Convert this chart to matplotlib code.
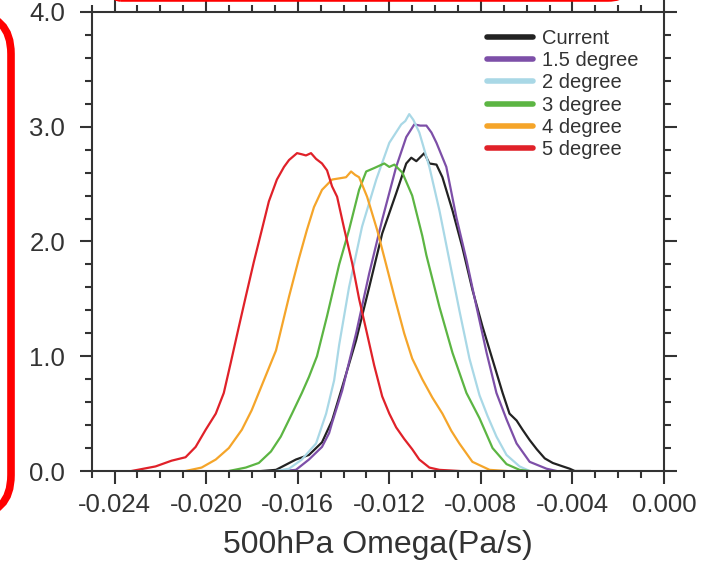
import numpy as np
import matplotlib
matplotlib.use("Agg")
import matplotlib.pyplot as plt
from matplotlib.patches import FancyBboxPatch
from matplotlib.transforms import IdentityTransform
from matplotlib.ticker import MultipleLocator, FormatStrFormatter

plt.rcParams['font.family'] = ['Liberation Sans', 'DejaVu Sans']
plt.rcParams['axes.unicode_minus'] = False

# PDF curves of 500hPa omega (Pa/s)
x_cur = [-0.01757, -0.01695, -0.01608, -0.01551, -0.01494, -0.01450, -0.01406, -0.01345,
         -0.01288, -0.01231, -0.01170, -0.01126, -0.01104, -0.01082, -0.01047, -0.01025,
         -0.00994, -0.00968, -0.00924, -0.00881, -0.00837, -0.00793, -0.00749, -0.00705,
         -0.00675, -0.00644, -0.00618, -0.00587, -0.00556, -0.00521, -0.00486, -0.00442,
         -0.00412, -0.00390, -0.00324]
y_cur = [0.00, 0.01, 0.10, 0.14, 0.25, 0.44, 0.73, 1.14,
         1.60, 2.07, 2.42, 2.68, 2.73, 2.70, 2.77, 2.68,
         2.67, 2.56, 2.27, 1.95, 1.58, 1.26, 0.97, 0.68,
         0.50, 0.44, 0.36, 0.27, 0.19, 0.11, 0.07, 0.04,
         0.02, 0.00, 0.00]

x_15 = [-0.01669, -0.01608, -0.01551, -0.01494, -0.01463, -0.01450, -0.01406, -0.01345,
        -0.01288, -0.01231, -0.01170, -0.01126, -0.01091, -0.01065, -0.01038, -0.01016,
        -0.00994, -0.00951, -0.00907, -0.00863, -0.00819, -0.00775, -0.00732, -0.00688,
        -0.00644, -0.00587, -0.00513, -0.00469]
y_15 = [0.00, 0.01, 0.10, 0.21, 0.33, 0.42, 0.70, 1.20,
        1.72, 2.19, 2.65, 2.91, 3.02, 3.01, 3.01, 2.95,
        2.86, 2.65, 2.21, 1.84, 1.43, 1.03, 0.68, 0.45,
        0.24, 0.08, 0.02, 0.00]

x_2 = [-0.01695, -0.01638, -0.01582, -0.01520, -0.01476, -0.01441, -0.01419, -0.01376,
       -0.01319, -0.01257, -0.01200, -0.01148, -0.01130, -0.01113, -0.01095, -0.01069,
       -0.01025, -0.00981, -0.00938, -0.00894, -0.00850, -0.00806, -0.00771, -0.00732,
       -0.00688, -0.00631, -0.00587]
y_2 = [0.00, 0.02, 0.10, 0.24, 0.50, 0.79, 1.10, 1.60,
       2.13, 2.54, 2.86, 3.02, 3.05, 3.11, 3.06, 2.95,
       2.65, 2.27, 1.84, 1.40, 0.98, 0.66, 0.48, 0.30,
       0.14, 0.04, 0.00]

x_3 = [-0.01901, -0.01827, -0.01770, -0.01717, -0.01674, -0.01625, -0.01582, -0.01551,
       -0.01516, -0.01472, -0.01419, -0.01376, -0.01332, -0.01301, -0.01266, -0.01244,
       -0.01222, -0.01200, -0.01178, -0.01143, -0.01100, -0.01056, -0.01038, -0.00981,
       -0.00924, -0.00863, -0.00806, -0.00749, -0.00688, -0.00631, -0.00587]
y_3 = [0.00, 0.03, 0.07, 0.17, 0.30, 0.50, 0.68, 0.82,
       1.00, 1.35, 1.80, 2.10, 2.45, 2.61, 2.64, 2.66,
       2.68, 2.65, 2.67, 2.60, 2.40, 2.05, 1.88, 1.43,
       1.03, 0.68, 0.46, 0.20, 0.06, 0.01, 0.00]

x_4 = [-0.02090, -0.02020, -0.01958, -0.01901, -0.01844, -0.01801, -0.01748, -0.01695,
       -0.01638, -0.01595, -0.01560, -0.01529, -0.01494, -0.01450, -0.01419, -0.01389,
       -0.01367, -0.01349, -0.01332, -0.01297, -0.01253, -0.01214, -0.01178, -0.01135,
       -0.01100, -0.01056, -0.01012, -0.00968, -0.00929, -0.00894, -0.00837, -0.00762,
       -0.00688]
y_4 = [0.00, 0.03, 0.10, 0.20, 0.36, 0.53, 0.79, 1.05,
       1.52, 1.85, 2.10, 2.30, 2.45, 2.54, 2.55, 2.56,
       2.61, 2.58, 2.56, 2.39, 2.10, 1.80, 1.52, 1.20,
       0.98, 0.80, 0.64, 0.50, 0.35, 0.24, 0.08, 0.01,
       0.00]

x_5 = [-0.02326, -0.02221, -0.02151, -0.02090, -0.02046, -0.02002, -0.01958, -0.01923,
       -0.01893, -0.01858, -0.01827, -0.01792, -0.01757, -0.01726, -0.01691, -0.01660,
       -0.01638, -0.01603, -0.01582, -0.01564, -0.01542, -0.01520, -0.01494, -0.01472,
       -0.01450, -0.01428, -0.01398, -0.01362, -0.01332, -0.01301, -0.01266, -0.01231,
       -0.01200, -0.01170, -0.01135, -0.01100, -0.01069, -0.01025, -0.00981, -0.00894]
y_5 = [0.00, 0.04, 0.09, 0.12, 0.21, 0.36, 0.50, 0.68,
       0.94, 1.25, 1.52, 1.82, 2.10, 2.35, 2.54, 2.65,
       2.71, 2.77, 2.76, 2.75, 2.77, 2.72, 2.68, 2.62,
       2.48, 2.39, 2.12, 1.81, 1.50, 1.23, 0.92, 0.65,
       0.50, 0.38, 0.28, 0.19, 0.10, 0.03, 0.01, 0.00]

labels = ["Current", "1.5 degree", "2 degree", "3 degree", "4 degree", "5 degree"]
colors = ["#222222", "#7d4fa8", "#a9d8e6", "#5cb543", "#f5a52a", "#e02129"]

series = [(x_cur, y_cur), (x_15, y_15), (x_2, y_2), (x_3, y_3), (x_4, y_4), (x_5, y_5)]

fig = plt.figure(figsize=(7.22, 5.63), dpi=100)
ax = fig.add_axes([0.127, 0.1634, 0.7927, 0.8153])

for (xs, ys), lab, c in zip(series, labels, colors):
    ax.plot(xs, ys, color=c, lw=1.6, label=lab)

ax.set_xlim(-0.025, 0.0)
ax.set_ylim(0, 4.0)
ax.xaxis.set_major_locator(MultipleLocator(0.004))
ax.xaxis.set_minor_locator(MultipleLocator(0.001))
ax.yaxis.set_major_locator(MultipleLocator(1.0))
ax.yaxis.set_minor_locator(MultipleLocator(0.2))
ax.xaxis.set_major_formatter(FormatStrFormatter('%.3f'))
ax.yaxis.set_major_formatter(FormatStrFormatter('%.1f'))

ink = "#333333"
for sp in ax.spines.values():
    sp.set_linewidth(1.5)
    sp.set_color(ink)
ax.tick_params(which='both', direction='out', top=True, right=True,
               color=ink, width=1.5, labelcolor=ink)
ax.tick_params(which='major', length=9, labelsize=18.5)
ax.tick_params(axis='x', which='major', pad=7)
ax.tick_params(axis='y', which='major', pad=10)
ax.tick_params(which='minor', length=5)

ax.set_xlabel("500hPa Omega(Pa/s)", fontsize=23, color=ink, labelpad=9)

leg = ax.legend(loc='upper left', bbox_to_anchor=(0.69, 0.963), frameon=False,
                fontsize=14.5, handlelength=2.3, handletextpad=0.45,
                labelspacing=0.16, borderpad=0, borderaxespad=0)
for ln in leg.get_lines():
    ln.set_linewidth(4)
    ln.set_solid_capstyle('round')
for t in leg.get_texts():
    t.set_color(ink)

# red highlight boxes drawn over the figure
red = "#ff0000"
box_left = FancyBboxPatch((-120, 48), 131, 501,
                          boxstyle="round,pad=0,rounding_size=40",
                          fill=False, edgecolor=red, linewidth=5.5,
                          transform=IdentityTransform())
box_top = FancyBboxPatch((96, 564), 537, 120,
                         boxstyle="round,pad=0,rounding_size=25",
                         fill=False, edgecolor=red, linewidth=4,
                         transform=IdentityTransform())
fig.add_artist(box_left)
fig.add_artist(box_top)

fig.savefig("out.png", dpi=100)
